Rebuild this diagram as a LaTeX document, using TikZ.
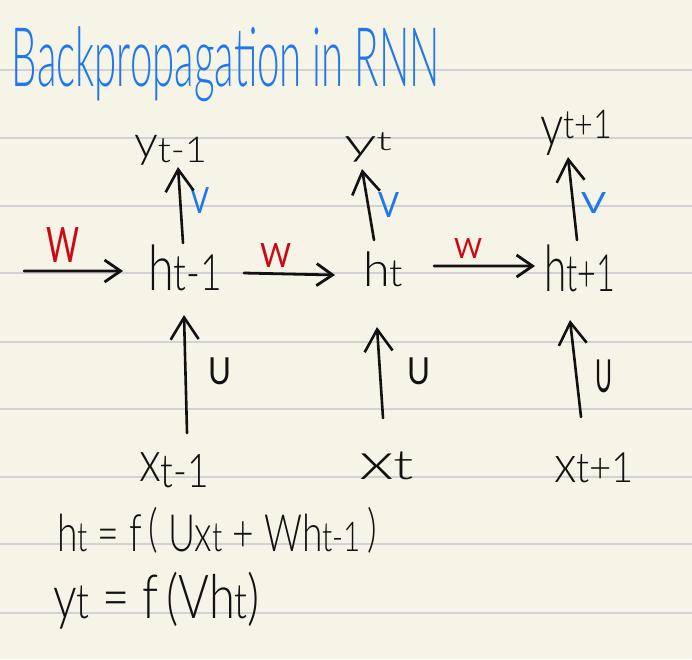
\documentclass[tikz,border=0pt]{standalone}
\usepackage{fontspec}
\setmainfont{Lato Light}
\newfontfamily\labelfont{Lato}
\usetikzlibrary{arrows.meta}
\definecolor{paper}{HTML}{F6F4E7}
\definecolor{rulegrey}{HTML}{D2D2D2}
\definecolor{inkblue}{HTML}{1F77EE}
\definecolor{inkred}{HTML}{CC0A14}
\definecolor{ink}{HTML}{111111}
\newcommand{\sbs}[1]{{\fontsize{8}{8}\selectfont #1}}
\newcommand{\sbsup}[1]{\raisebox{0.12em}{\fontsize{7}{7}\selectfont #1}}
\newcommand{\lp}{\raisebox{0.1em}{(}}
\newcommand{\rp}{\raisebox{0.1em}{)}}
\newcommand{\hwbox}[3]{\resizebox*{#1}{#2}{#3}}
\begin{document}
\begin{tikzpicture}[x=1pt,y=-1pt,
  txt/.style={anchor=north west,inner sep=0pt,outer sep=0pt,text=ink},
  lbl/.style={txt,font=\labelfont},
  arrh/.style={draw=ink,line width=2.8pt,line cap=round,
    -{Straight Barb[length=16pt,width=22pt,line width=2.8pt]}},
  arrv/.style={draw=ink,line width=2.6pt,line cap=round,
    -{Straight Barb[length=22pt,width=28pt,line width=2.6pt]}},
  ruleline/.style={draw=rulegrey,line width=2pt}]
\fill[paper] (0,0) rectangle (692,659);
\useasboundingbox (0,0) rectangle (692,659);
\foreach \yy in {70,138,206,273,342,409,477,544,613}
  \draw[ruleline] (0,\yy) -- (692,\yy);
% title
\node[txt,text=inkblue] (title) at (12,27) {\hwbox{428pt}{75pt}{Backpropagation in RNN}};
% outputs
\node[txt] (y1) at (134,135) {\hwbox{73pt}{30pt}{y\raisebox{-0.12em}{\sbs{t-1}}}};
\node[txt] (y2) at (344,133) {\hwbox{48pt}{29pt}{y\sbsup{t}}};
\node[txt] (y3) at (540,110) {\hwbox{72pt}{45pt}{y\sbsup{t+1}}};
% hidden
\node[txt] (h1) at (148,245) {\hwbox{74pt}{46pt}{h\sbs{t-1}}};
\node[txt] (h2) at (363,252) {\hwbox{40pt}{35pt}{h\sbs{t}}};
\node[txt] (h3) at (544,245) {\hwbox{71pt}{47pt}{h\sbs{t+1}}};
% inputs
\node[txt] (x1) at (139,453) {\hwbox{70pt}{35pt}{x\raisebox{-0.1em}{\sbs{t-1}}}};
\node[txt] (x2) at (359,452) {\hwbox{55pt}{28pt}{x\sbs{t}}};
\node[txt] (x3) at (554,453) {\hwbox{80pt}{30pt}{x\sbs{t+1}}};
% weight labels
\node[lbl,text=inkblue] (v1) at (190,187) {\hwbox{19pt}{26pt}{V}};
\node[lbl,text=inkblue] (v2) at (378,192) {\hwbox{21pt}{25pt}{V}};
\node[lbl,text=inkblue] (v3) at (581,192) {\hwbox{25pt}{21pt}{V}};
\node[lbl,text=inkred] (w1) at (46,227) {\hwbox{33pt}{35pt}{W}};
\node[lbl,text=inkred] (w2) at (260,243) {\hwbox{31pt}{24pt}{W}};
\node[lbl,text=inkred] (w3) at (454,238) {\hwbox{28pt}{20pt}{W}};
\node[lbl] (u1) at (208,358) {\hwbox{23pt}{27pt}{U}};
\node[lbl] (u2) at (407,358) {\hwbox{23pt}{27pt}{U}};
\node[lbl] (u3) at (595,360) {\hwbox{17pt}{33pt}{U}};
% equations
\node[txt] (eq1) at (57,507) {\hwbox{320pt}{46pt}{h\sbs{t} = f\,\lp\ Ux\sbs{t} + Wh\sbs{t-1}\,\rp}};
\node[txt] (eq2) at (53,572) {\hwbox{207pt}{57pt}{y\sbs{t} = f\,(Vh\sbs{t})}};
% connectors
\coordinate (w0) at (24,271);
\draw[arrh] (w0) -- ([xshift=-25pt,yshift=-3pt]h1.west);
\draw[arrh] ([xshift=22pt,yshift=-5pt]h1.east) -- ([xshift=-28pt,yshift=-5.5pt]h2.west);
\draw[arrh] ([xshift=31pt,yshift=3.5pt]h2.east) -- ([xshift=-9pt,yshift=2.5pt]h3.west);
\draw[arrv] ([xshift=-2pt,yshift=2pt]h1.north) -- ([xshift=7.5pt,yshift=-2pt]y1.south);
\draw[arrv] ([xshift=-9pt,yshift=12pt]h2.north) -- ([xshift=-6pt,yshift=-7pt]y2.south);
\draw[arrv] ([xshift=-2.5pt,yshift=5pt]h3.north) -- ([xshift=-8pt,yshift=-2pt]y3.south);
\draw[arrv] ([xshift=13pt,yshift=20pt]x1.north) -- ([xshift=-1pt,yshift=-24pt]h1.south);
\draw[arrv] ([xshift=-3.5pt,yshift=34pt]x2.north) -- ([xshift=-6pt,yshift=-40pt]h2.south);
\draw[arrv] ([xshift=-13pt,yshift=36pt]x3.north) -- ([xshift=-9.5pt,yshift=-28pt]h3.south);
\end{tikzpicture}
\end{document}
